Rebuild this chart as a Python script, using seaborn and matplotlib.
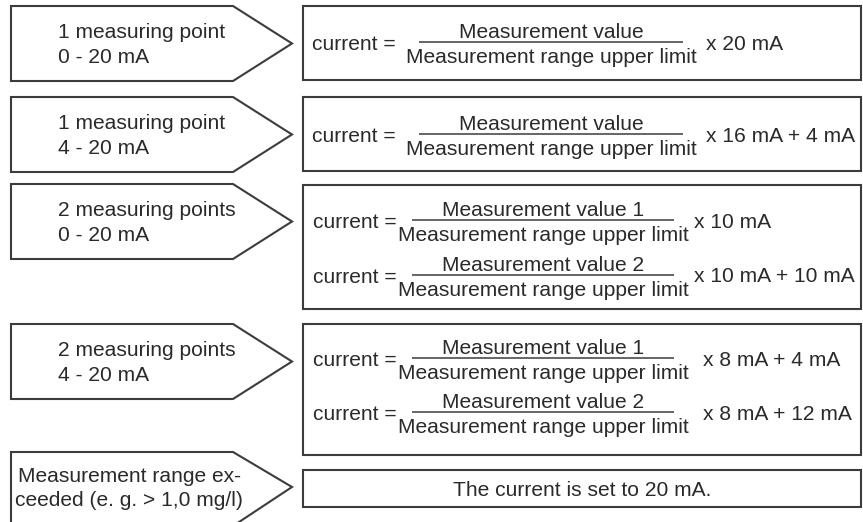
import matplotlib
matplotlib.use("Agg")
import matplotlib.pyplot as plt
import seaborn as sns
from matplotlib.patches import Polygon, Rectangle

sns.set_theme(style="white")
plt.rcParams['font.family'] = ['Liberation Sans', 'DejaVu Sans']

# ---------------- content ----------------
mode_lines = [
    ["1 measuring point", "0 - 20 mA"],
    ["1 measuring point", "4 - 20 mA"],
    ["2 measuring points", "0 - 20 mA"],
    ["2 measuring points", "4 - 20 mA"],
    ["Measurement range ex-", "ceeded (e. g. > 1,0 mg/l)"],
]
numerators = [
    ["Measurement value"],
    ["Measurement value"],
    ["Measurement value 1", "Measurement value 2"],
    ["Measurement value 1", "Measurement value 2"],
    [],
]
denominator = "Measurement range upper limit"
lhs = "current ="
factors = [
    ["x 20 mA"],
    ["x 16 mA + 4 mA"],
    ["x 10 mA", "x 10 mA + 10 mA"],
    ["x 8 mA + 4 mA", "x 8 mA + 12 mA"],
    [],
]
overflow_text = "The current is set to 20 mA."

# ---------------- layout (pixels) ----------------
W, H = 863, 522
arrow_rows = [(6, 81), (97, 172), (184, 259), (324, 399), (452, 522)]
box_rows = [(6, 80), (97, 171), (185, 309), (324, 455), (470, 507)]
frac_lines = [[42], [134], [220, 275], [358, 412], []]
frac_center = [551, 551, 543, 543, None]
frac_half = [132, 132, 131, 131, None]
factor_x = [706, 706, 694, 703, None]
lhs_x = [312, 312, 313, 313, None]
arrow_left, arrow_body, arrow_tip = 11, 233, 292
box_left, box_right = 303, 861

FS = 15.1
TXT = "#2a2a2a"
EDGE = "#3c3c3c"

fig = plt.figure(figsize=(W / 100, H / 100), dpi=100)
ax = fig.add_axes([0, 0, 1, 1])
ax.set_xlim(0, W)
ax.set_ylim(H, 0)
ax.axis("off")
sns.despine(ax=ax, left=True, bottom=True)

for i, (top, bot) in enumerate(arrow_rows):
    c = (top + bot) / 2
    draw_bot = bot if bot < H else H + 4  # last arrow runs off the bottom edge
    pts = [(arrow_left, top), (arrow_body, top), (arrow_tip, c),
           (arrow_body, draw_bot), (arrow_left, draw_bot)]
    ax.add_patch(Polygon(pts, closed=True, facecolor="white",
                         edgecolor=EDGE, lw=1.5, joinstyle="miter"))
    l1, l2 = mode_lines[i]
    if i < 4:
        ax.text(58, c - 5.5, l1, ha="left", va="baseline", fontsize=FS, color=TXT)
        ax.text(58, c + 19.5, l2, ha="left", va="baseline", fontsize=FS, color=TXT)
    else:
        ax.text(129, c - 5.5, l1, ha="center", va="baseline", fontsize=FS, color=TXT)
        ax.text(129, c + 19.5, l2, ha="center", va="baseline", fontsize=FS, color=TXT)

for i, (top, bot) in enumerate(box_rows):
    ax.add_patch(Rectangle((box_left, top), box_right - box_left, bot - top,
                           facecolor="white", edgecolor=EDGE, lw=1.5))
    if not numerators[i]:
        ax.text((box_left + box_right) / 2, (top + bot) / 2, overflow_text,
                ha="center", va="center_baseline", fontsize=FS, color=TXT)
        continue
    for num, fac, ly in zip(numerators[i], factors[i], frac_lines[i]):
        cx = frac_center[i]
        hw = frac_half[i]
        ax.plot([cx - hw, cx + hw], [ly, ly], color=EDGE, lw=1.1,
                solid_capstyle="butt")
        ax.text(cx, ly - 4, num, ha="center", va="baseline", fontsize=FS, color=TXT)
        ax.text(cx, ly + 21, denominator, ha="center", va="baseline",
                fontsize=FS, color=TXT)
        ax.text(lhs_x[i], ly + 8, lhs, ha="left", va="baseline", fontsize=FS, color=TXT)
        ax.text(factor_x[i], ly + 7.5, fac, ha="left", va="baseline",
                fontsize=FS, color=TXT)

fig.savefig("out.png", dpi=100, facecolor="white")
